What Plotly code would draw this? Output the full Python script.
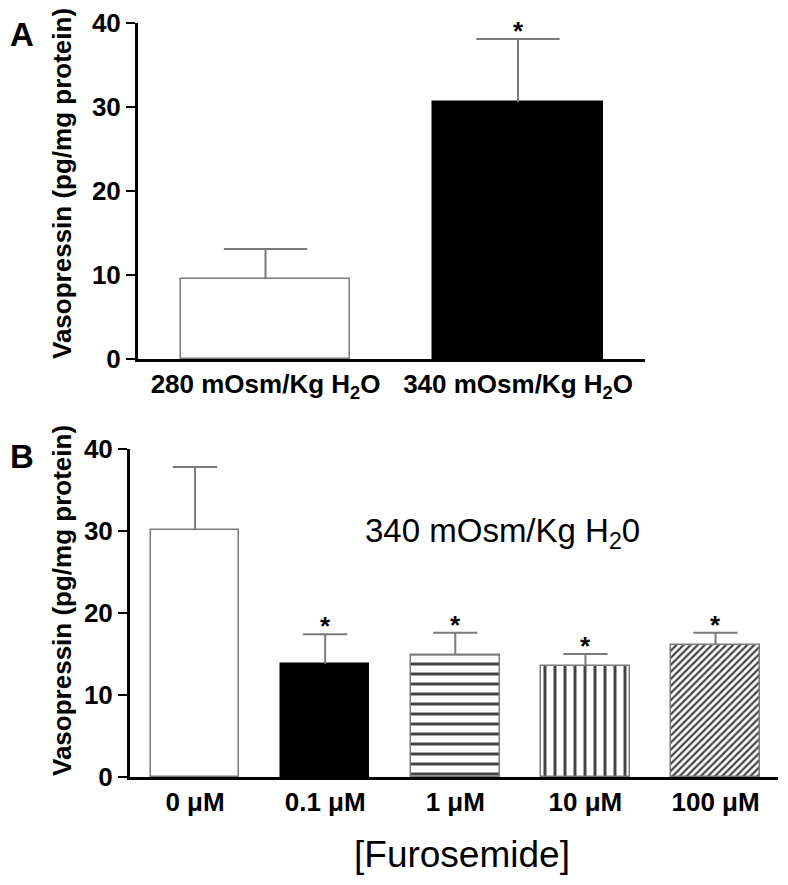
import plotly.graph_objects as go

# panel A
a_labels = ['280 mOsm/Kg H<sub>2</sub>O', '340 mOsm/Kg H<sub>2</sub>O']
a_means = [9.5, 30.6]
a_sem = [3.6, 7.5]
a_star = [False, True]

# panel B
b_labels = ['0 μM', '0.1 μM', '1 μM', '10 μM', '100 μM']
b_means = [30.1, 13.8, 14.9, 13.5, 16.1]
b_sem = [7.7, 3.6, 2.7, 1.5, 1.5]
b_star = [False, True, True, True, True]

FONT = 'Liberation Sans'
GREY = '#7a7a7a'

# page body has an 8px margin, so the figure is drawn 8px in from the corner
W, H, OFF = 772, 869, 8


def px(X):
    return (X - OFF) / W


def py(Y):
    return 1 - (Y - OFF) / H


def err_path(means, sems, half):
    # one-sided (upper) error bars: stem from bar top + cap
    xs, ys = [], []
    for i, (m, s) in enumerate(zip(means, sems)):
        xs += [i, i, None, i - half, i + half, None]
        ys += [m, m + s, None, m + s, m + s, None]
    return xs, ys


fig = go.Figure()

fig.add_trace(go.Bar(
    x=[0, 1], y=a_means,
    width=0.67,
    marker=dict(color=['white', 'black'], line=dict(color=[GREY, 'black'], width=1.5)),
    xaxis='x', yaxis='y', showlegend=False,
))
ex, ey = err_path(a_means, a_sem, 0.165)
fig.add_trace(go.Scatter(x=ex, y=ey, mode='lines', line=dict(color=GREY, width=2),
                         xaxis='x', yaxis='y', showlegend=False, hoverinfo='skip'))

b_fill = ['white', 'black', 'white', 'white', 'white']
b_shape = ['', '', '-', '|', '/']
b_size = [8, 8, 10, 10, 5]
b_solid = [0.3, 0.3, 0.3, 0.3, 0.45]
fig.add_trace(go.Bar(
    x=list(range(5)), y=b_means,
    width=0.68,
    marker=dict(
        color=b_fill,
        line=dict(color=[GREY, 'black', GREY, GREY, GREY], width=1.5),
        pattern=dict(shape=b_shape, fgcolor='#111', bgcolor='white', fgopacity=1,
                     size=b_size, solidity=b_solid, fillmode='overlay'),
    ),
    xaxis='x2', yaxis='y2', showlegend=False,
))
ex, ey = err_path(b_means, b_sem, 0.17)
fig.add_trace(go.Scatter(x=ex, y=ey, mode='lines', line=dict(color=GREY, width=2),
                         xaxis='x2', yaxis='y2', showlegend=False, hoverinfo='skip'))

ann = []
for i, s in enumerate(a_star):
    if s:
        ann.append(dict(x=i, y=a_means[i] + a_sem[i], xref='x', yref='y', text='<b>*</b>',
                        showarrow=False, yanchor='bottom', yshift=-9,
                        font=dict(family=FONT, size=26, color='black')))
for i, s in enumerate(b_star):
    if s:
        ann.append(dict(x=i, y=b_means[i] + b_sem[i], xref='x2', yref='y2', text='<b>*</b>',
                        showarrow=False, yanchor='bottom', yshift=-9,
                        font=dict(family=FONT, size=26, color='black')))

ytitle = '<b>Vasopressin (pg/mg protein)</b>'
ann += [
    dict(x=px(62), y=py(184), xref='paper', yref='paper', text=ytitle, textangle=-90,
         xanchor='center', yanchor='middle',
         showarrow=False, font=dict(family=FONT, size=26, color='black')),
    dict(x=px(62), y=py(601), xref='paper', yref='paper', text=ytitle, textangle=-90,
         xanchor='center', yanchor='middle',
         showarrow=False, font=dict(family=FONT, size=26, color='black')),
    dict(x=px(8), y=py(34), xref='paper', yref='paper', text='<b>A</b>',
         xanchor='left', yanchor='middle',
         showarrow=False, font=dict(family=FONT, size=33, color='black')),
    dict(x=px(8), y=py(456), xref='paper', yref='paper', text='<b>B</b>',
         xanchor='left', yanchor='middle',
         showarrow=False, font=dict(family=FONT, size=33, color='black')),
    dict(x=px(503), y=py(533), xref='paper', yref='paper',
         text='340 mOsm/Kg H<sub>2</sub>0', xanchor='center', yanchor='middle',
         showarrow=False, font=dict(family=FONT, size=33, color='black')),
    dict(x=px(462), y=py(854), xref='paper', yref='paper', text='[Furosemide]',
         xanchor='center', yanchor='middle',
         showarrow=False, font=dict(family=FONT, size=37, color='black')),
]

axis_common = dict(showline=True, linecolor='black', linewidth=3, showgrid=False, zeroline=False,
                   ticks='outside', ticklen=9, tickwidth=2, tickcolor='black', automargin=False,
                   tickfont=dict(family=FONT, size=26, color='black', weight='bold'))

fig.update_layout(
    width=W, height=H,
    margin=dict(l=0, r=0, t=0, b=0),
    plot_bgcolor='white', paper_bgcolor='white',
    xaxis=dict(domain=[px(138), px(645)], range=[-0.505, 1.503], anchor='y',
               tickvals=[0, 1], ticktext=a_labels, **{**axis_common, 'ticks': ''}),
    yaxis=dict(domain=[py(359), py(23)], range=[0, 40], anchor='x',
               tickvals=[0, 10, 20, 30, 40], **axis_common),
    xaxis2=dict(domain=[px(130), px(778)], range=[-0.5, 4.48], anchor='y2',
                tickvals=list(range(5)), ticktext=b_labels, **{**axis_common, 'ticks': ''}),
    yaxis2=dict(domain=[py(777), py(449)], range=[0, 40], anchor='x2',
                tickvals=[0, 10, 20, 30, 40], **axis_common),
    annotations=ann,
    bargap=0,
)

fig.write_html('out.html')
